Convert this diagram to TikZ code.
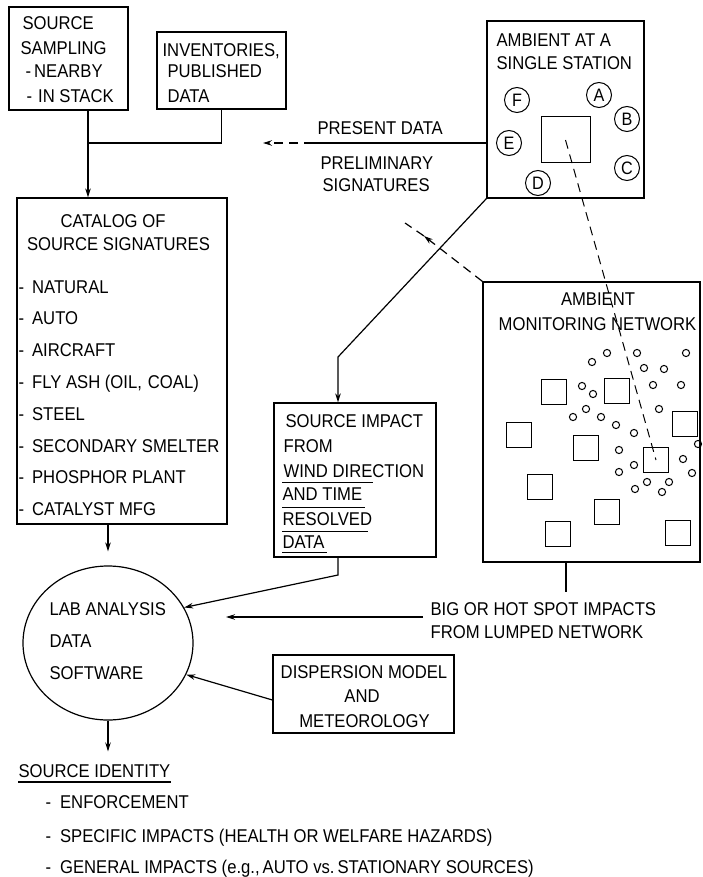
\documentclass[tikz,border=0pt]{standalone}
\usepackage{fontspec}
\setmainfont{Liberation Sans}[FakeStretch=0.9]
\usetikzlibrary{shapes.geometric,arrows.meta,calc}
\newcommand{\dfs}{\fontsize{18.5}{22}\selectfont}
\newcommand{\lfs}{\fontsize{18}{20}\selectfont}
\begin{document}
\begin{tikzpicture}[x=1pt,y=-1pt,line width=1.2pt,
  box/.style={draw,rectangle,inner sep=0pt},
  t/.style={anchor=base west,inner sep=0pt,font=\dfs},
  tc/.style={anchor=base,inner sep=0pt,font=\dfs},
  arr/.style={-{Stealth[length=9pt,width=5.5pt]}},
  dsh/.style={dash pattern=on 9pt off 6pt},
  lc/.style={draw,circle,minimum size=25pt,inner sep=0pt,line width=1pt,font=\lfs},
  sq/.style={box,minimum size=25pt,line width=1pt}]
\useasboundingbox (0,0) rectangle (702,877);
\fill[white] (0,0) rectangle (702,877);

% boxes
\node[box,minimum width=119pt,minimum height=103pt] (samp) at (68.5,58.5) {};
\node[box,minimum width=129pt,minimum height=77pt] (inv) at (221.5,70.5) {};
\node[box,minimum width=157pt,minimum height=177pt] (stat) at (565.5,109.5) {};
\node[box,minimum width=49pt,minimum height=46pt,line width=1pt] (ssq) at (565.5,140) {};
\node[box,minimum width=210pt,minimum height=326pt] (cat) at (122,361) {};
\node[box,minimum width=162pt,minimum height=154pt] (imp) at (355,480) {};
\node[box,minimum width=217pt,minimum height=280pt] (net) at (591.5,422) {};
\node[box,minimum width=181pt,minimum height=78pt] (disp) at (363.5,694) {};
\node[draw,ellipse,minimum width=170pt,minimum height=154pt,inner sep=0pt] (lab) at (108,643) {};

% station circles
\node[lc] (cF) at (517,100) {F};
\node[lc] (cA) at (599,95) {A};
\node[lc] (cB) at (627,119) {B};
\node[lc] (cE) at (509,143) {E};
\node[lc] (cC) at (627,168) {C};
\node[lc] (cD) at (538,183) {D};

% network squares
\foreach \n/\x/\y in {1/554/392,2/617/391,3/519/435,4/685/424,5/586/448,6/656/460,7/540/487,8/607/512,9/558/534,10/678/533}
  \node[sq] (sq\n) at (\x,\y) {};
% network small circles
\foreach \x/\y in {592/362,607/353,637/353,686/353,644/368,664/369,582/386,593/394,653/385,681/385,
  586/409,573/417,601/417,659/409,616/425,634/433,698/444,619/450,634/465,683/459,619/472,692/473,
  647/482,669/482,635/489,662/492}
  \draw[line width=1pt] (\x,\y) circle (3.6);

% texts
\node[t] (s1) at (22,30) {SOURCE};
\node[t] (s2) at (20,55) {SAMPLING};
\node[t] (s3) at (25,78) {-\hspace{3pt}NEARBY};
\node[t] (s4) at (26,103) {-\hspace{6pt}IN STACK};
\node[t] (i1) at (162,57) {INVENTORIES,};
\node[t] (i2) at (167,78) {PUBLISHED};
\node[t] (i3) at (167,103) {DATA};
\node[t] (a1) at (496,47) {AMBIENT AT A};
\node[t] (a2) at (496,70) {SINGLE STATION};
\node[t] (p1) at (317,135) {PRESENT DATA};
\node[t] (p2) at (320,170) {PRELIMINARY};
\node[t] (p3) at (322,192) {SIGNATURES};
\node[tc] (c1) at (113,228) {CATALOG OF};
\node[tc] (c2) at (118.5,250) {SOURCE SIGNATURES};
\foreach \n/\y/\s in {1/293/NATURAL,2/324/AUTO,3/356/AIRCRAFT,4/388/{FLY ASH (OIL,\hspace{6pt}COAL)},
  5/420/STEEL,6/452/SECONDARY SMELTER,7/483/PHOSPHOR PLANT,8/515/CATALYST MFG}
  \node[t] (k\n) at (18,\y) {-\hspace{8pt}\s};
\node[t] (m1) at (285,427) {SOURCE IMPACT};
\node[t] (m2) at (283,452) {FROM};
\node[t] (m3) at (283,477) {WIND DIRECTION};
\node[t] (m4) at (282,500) {AND TIME};
\node[t] (m5) at (282,525) {RESOLVED};
\node[t] (m6) at (282,548) {DATA};
\draw[line width=1pt] (282,482) -- (373,482);
\draw[line width=1pt] (282,507) -- (365,507);
\draw[line width=1pt] (282,531) -- (368,531);
\draw[line width=1pt] (282,552) -- (327,552);
\node[tc] (n1) at (598,305) {AMBIENT};
\node[tc] (n2) at (597.5,330) {MONITORING NETWORK};
\node[t] (l1) at (49,615) {LAB ANALYSIS};
\node[t] (l2) at (49,647) {DATA};
\node[t] (l3) at (49,679) {SOFTWARE};
\node[t] (b1) at (430,615) {BIG OR HOT SPOT IMPACTS};
\node[t] (b2) at (430,638) {FROM LUMPED NETWORK};
\node[tc] (d1) at (364,678) {DISPERSION MODEL};
\node[tc] (d2) at (362,702) {AND};
\node[tc] (d3) at (364.5,727) {METEOROLOGY};
\node[t] (sid) at (18,777) {SOURCE IDENTITY};
\draw ($(sid.base west)+(0,5)$) -- ($(sid.base east)+(0,5)$);
\node[t] (o1) at (45,808) {-\hspace{9pt}ENFORCEMENT};
\node[t] (o2) at (45,842) {-\hspace{9pt}SPECIFIC IMPACTS (HEALTH OR WELFARE HAZARDS)};
\node[t] (o3) at (45,873) {-\hspace{9pt}GENERAL IMPACTS (e.g.,\hspace{3pt}AUTO vs.\hspace{3pt}STATIONARY SOURCES)};

% connectors
\coordinate (j1) at (88,143);
\draw[arr] (samp.south -| j1) -- (cat.north -| j1);
\draw (inv.south) |- (j1);
\coordinate (pd) at (313,143);
\coordinate (pdtip) at (263,143);
\draw (stat.west |- pd) -- (pd);
\draw[arr,dsh] (pd) -- (pdtip);
\coordinate (bend1) at (338,357);
\draw[arr] (stat.south west) -- (bend1) -- (imp.north -| bend1);
\coordinate (ptip) at (424,236);
\coordinate (pend) at (405,223);
\draw[arr,dsh] (net.north west) -- (ptip);
\draw[dsh] (ptip) -- (pend);
\draw[dsh,line width=1pt] (ssq.center) -- (sq6.center);
\coordinate (bend2) at (338,575);
\draw[arr] (imp.south -| bend2) -- (bend2) -- (lab.25);
\coordinate (nb) at (566,592);
\draw (net.south -| nb) -- (nb);
\coordinate (bl) at (423,617);
\coordinate (btip) at (226,617);
\draw[arr] (bl) -- (btip);
\draw[arr] ($(disp.west)+(0,6)$) -- (lab.-22);
\draw[arr,shorten >=14pt] (cat.south -| lab.north) -- (lab.north);
\draw[arr,shorten >=12pt] (lab.south) -- (lab.south |- sid.north);
\end{tikzpicture}
\end{document}
